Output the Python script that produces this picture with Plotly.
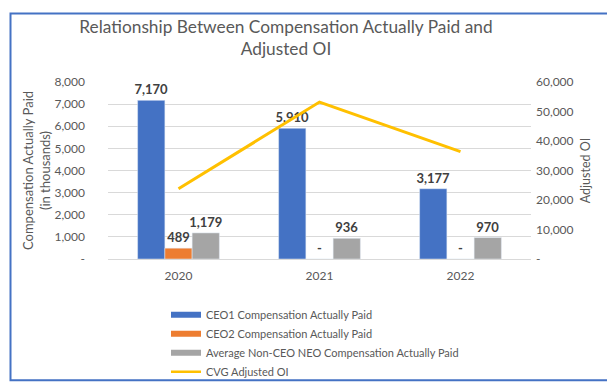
import plotly.graph_objects as go

years = ["2020", "2021", "2022"]
ceo1 = [7170, 5910, 3177]
ceo2 = [489, 0, 0]
neo = [1179, 936, 970]
adj_oi = [23800, 53200, 36400]

left_ticks = [0, 1000, 2000, 3000, 4000, 5000, 6000, 7000, 8000]
right_ticks = [0, 10000, 20000, 30000, 40000, 50000, 60000]

FONT = "Lato"
BLUE, ORANGE, GRAY, GOLD = "#4472C4", "#ED7D31", "#A5A5A5", "#FFC000"


def fmt(v):
    return "-" if v == 0 else f"{v:,}"


L, R, T, B = 100, 92, 74, 131
W, H = 615, 390
pw, ph = W - L - R, H - T - B


def px(x):
    return (x - L) / pw


def py(y):
    return (H - B - y) / ph


fig = go.Figure()
for name, vals, col in [("CEO1 Compensation Actually Paid", ceo1, BLUE),
                        ("CEO2 Compensation Actually Paid", ceo2, ORANGE),
                        ("Average Non-CEO NEO Compensation Actually Paid", neo, GRAY)]:
    fig.add_trace(go.Bar(x=years, y=vals, name=name, marker_color=col,
                         text=[fmt(v) for v in vals], textposition="outside",
                         constraintext="none",
                         textfont=dict(family=FONT, size=13, color="#404040", weight="bold"),
                         cliponaxis=False, showlegend=False, hoverinfo="skip"))

fig.add_trace(go.Scatter(x=years, y=adj_oi, name="CVG Adjusted OI", mode="lines",
                         line=dict(color=GOLD, width=3), yaxis="y2", showlegend=False))

# legend-only entries (Excel-style wide swatches)
for name, col, w in [("CEO1 Compensation Actually Paid", BLUE, 6),
                     ("CEO2 Compensation Actually Paid", ORANGE, 6),
                     ("Average Non-CEO NEO Compensation Actually Paid", GRAY, 6),
                     ("CVG Adjusted OI", GOLD, 2.5)]:
    fig.add_trace(go.Scatter(x=[None], y=[None], mode="lines", name=name,
                             line=dict(color=col, width=w)))

fig.update_layout(
    width=W, height=H,
    margin=dict(l=L, r=R, t=T, b=B),
    paper_bgcolor="white", plot_bgcolor="white",
    font=dict(family=FONT, color="#595959", size=12),
    barmode="group", bargap=0.42, bargroupgap=0,
    title=dict(text="Relationship Between Compensation Actually Paid and<br>Adjusted OI",
               font=dict(family=FONT, size=17.3, color="#595959"),
               x=278 / W, xanchor="center", xref="container",
               y=1 - 25 / H, yanchor="middle", yref="container"),
    xaxis=dict(type="category", showgrid=False, ticks="", showline=True,
               linecolor="#D9D9D9", linewidth=1, tickfont=dict(size=12),
               ticklabelstandoff=6),
    yaxis=dict(range=[0, 8000], tickvals=left_ticks, ticktext=[fmt(v) for v in left_ticks],
               showgrid=True, gridcolor="#D9D9D9", gridwidth=1, zeroline=False,
               ticks="", ticklabelstandoff=22, tickfont=dict(size=12),
               title=dict(text="Compensation Actually Paid<br>(in thousands)",
                          font=dict(size=13), standoff=0)),
    yaxis2=dict(range=[0, 60000], tickvals=right_ticks, ticktext=[fmt(v) for v in right_ticks],
                overlaying="y", side="right", showgrid=False, zeroline=False,
                ticks="", ticklabelstandoff=4, tickfont=dict(size=12),
                title=dict(text="Adjusted OI", font=dict(size=12.5), standoff=8)),
    legend=dict(orientation="v", x=px(158), xanchor="left", y=py(302), yanchor="top",
                font=dict(size=11, color="#595959"), bgcolor="rgba(0,0,0,0)",
                tracegroupgap=0, itemwidth=30),
    shapes=[dict(type="rect", xref="paper", yref="paper",
                 x0=px(2.5), x1=px(611), y0=py(2.5), y1=py(385.8),
                 line=dict(color="#4472C4", width=2), layer="above")],
)

fig.write_html("out.html")
